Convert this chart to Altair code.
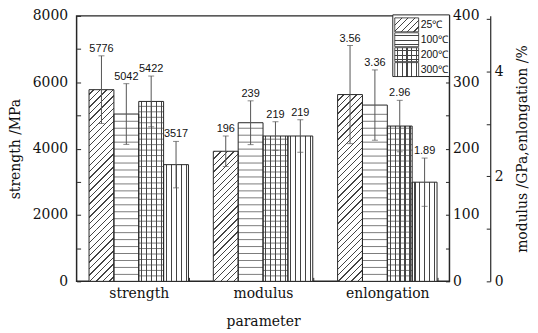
import altair as alt
import pandas as pd

# ---------------- data ----------------
PARAMS = ["strength", "modulus", "enlongation"]
TEMPS = ["25℃", "100℃", "200℃", "300℃"]
STRENGTH = [5776, 5042, 5422, 3517]
STRENGTH_ERR = [1020, 915, 765, 700]
MODULUS = [196, 239, 219, 219]
MODULUS_ERR = [23, 33, 21.5, 24.5]
ELONG = [3.56, 3.36, 2.96, 1.89]
ELONG_ERR = [0.935, 0.67, 0.49, 0.46]
VALUE_LABELS = ["5776", "5042", "5422", "3517",
                "196", "239", "219", "219",
                "3.56", "3.36", "2.96", "1.89"]

STRENGTH_MAX = 8000
MODULUS_MAX = 400
ELONG_MAX = 5.06
LEFT_TICKS = [0, 1000, 2000, 3000, 4000, 5000, 6000, 7000, 8000]
MOD_TICKS = [0, 50, 100, 150, 200, 250, 300, 350, 400]
ELONG_TICKS = [0, 1, 2, 3, 4, 5]

# ---------------- layout / style ----------------
W, H = 375, 267
BAR_W = 25
INK = "#262626"
HATCH = "#444444"
ERR = "#555555"
PAPER = "#ffffff"
CLEAR = "rgba(255,255,255,0)"
SERIF = "DejaVu Serif"
SANS = "Liberation Sans"
DIAG_GAP = 6.5      # px between diagonal hatch lines (25 C)
H_GAP = {"100℃": 7.0, "200℃": 5.5}   # px between horizontal hatch lines
V_GAP = 5.0         # px between vertical hatch lines
SEG_PX = 52         # diagonal hatch drawn in short stacked pieces

factor = {"strength": 1.0,
          "modulus": STRENGTH_MAX / MODULUS_MAX,
          "enlongation": STRENGTH_MAX / ELONG_MAX}
vals = {"strength": STRENGTH, "modulus": MODULUS, "enlongation": ELONG}
errs = {"strength": STRENGTH_ERR, "modulus": MODULUS_ERR, "enlongation": ELONG_ERR}

rows = []
k = 0
for p in PARAMS:
    for i, t in enumerate(TEMPS):
        f = factor[p]
        v, e = vals[p][i], errs[p][i]
        rows.append(dict(param=p, temp=t, plot=v * f, lo=(v - e) * f,
                         hi=(v + e) * f, label=VALUE_LABELS[k]))
        k += 1
df = pd.DataFrame(rows)
PX2DATA = STRENGTH_MAX / H


# ---------------- hatch helpers ----------------
def _stops(n, lw, bg, start=0.0):
    stops = []
    step = 1.0 / n
    for i in range(n):
        s = round(min(start * step + i * step, 1.0), 5)
        e = round(min(start * step + i * step + lw, 1.0), 5)
        nxt = round(min(start * step + (i + 1) * step, 1.0), 5)
        if i == 0 and s > 0:
            stops += [{"offset": 0, "color": bg}, {"offset": s, "color": bg}]
        stops += [{"offset": s, "color": HATCH}, {"offset": e, "color": HATCH},
                  {"offset": e, "color": bg}, {"offset": nxt, "color": bg}]
    return stops


def hlines(h, gap, bg=PAPER):
    n = max(1, round(h / gap))
    return {"gradient": "linear", "x1": 0, "y1": 0, "x2": 0.0001, "y2": 1,
            "stops": _stops(n, 1.1 / max(h, 1), bg, start=0.5)}


def vlines(w, gap, bg=PAPER):
    n = max(1, round(w / gap))
    return {"gradient": "linear", "x1": 0, "y1": 0, "x2": 1, "y2": 0.0001,
            "stops": _stops(n, 1.1 / w, bg, start=0.45)}


def dseg(w, hs, gap, phase, lw=1.25, bg=PAPER):
    """'/' hatch for one piece; lines where x + y (local px) == phase mod gap."""
    ct = w + hs
    a = ct / (w * w + hs * hs)
    stops = [{"offset": 0, "color": bg}]
    c = (phase % gap) - gap
    while c < ct:
        a0, a1 = max(c, 0.0) / ct, min(c + lw, ct) / ct
        if a1 > a0:
            a0, a1 = round(a0, 5), round(a1, 5)
            stops += [{"offset": a0, "color": bg}, {"offset": a0, "color": HATCH},
                      {"offset": a1, "color": HATCH}, {"offset": a1, "color": bg}]
        c += gap
    stops.append({"offset": 1, "color": bg})
    return {"gradient": "linear", "x1": 0, "y1": 0, "x2": a * w, "y2": a * hs,
            "stops": stops}


# ---------------- axes ----------------
x_axis = alt.Axis(orient="bottom", offset=-4, domain=False, tickSize=4,
                  tickBand="extent", tickColor=INK, labelAngle=0,
                  labelPadding=5, title="parameter", titlePadding=14)
left_axis = alt.Axis(orient="left", values=LEFT_TICKS, offset=-4, domain=False,
                     tickSize=4, labelPadding=9, format="d",
                     labelExpr="datum.value % 2000 === 0 ? datum.label : ''",
                     title="strength /MPa", titlePadding=10)

X = alt.X("param:N", sort=PARAMS,
          scale=alt.Scale(domain=PARAMS, paddingInner=0.2, paddingOuter=0.1),
          axis=x_axis)
XO = alt.XOffset("temp:N", sort=TEMPS,
                 scale=alt.Scale(domain=TEMPS, paddingInner=0, paddingOuter=0))
YS = alt.Scale(domain=[0, STRENGTH_MAX], nice=False)


def Yq(field):
    return alt.Y(field, scale=YS, axis=left_axis)


base = alt.Chart(df)
layers = []

# white bodies for all bars
layers.append(base.mark_bar(fill=PAPER).encode(x=X, xOffset=XO, y=Yq("plot:Q")))

# 25 C: diagonal hatch, built from stacked pieces of each bar
for p in PARAMS:
    top = float(df[(df.param == p) & (df.temp == "25℃")]["plot"].iloc[0])
    top_px = top / PX2DATA
    b0 = 0.0
    while b0 < top_px - 0.01:
        b1 = min(b0 + SEG_PX, top_px)
        piece = {"param": p, "temp": "25℃", "s0": b0 * PX2DATA,
                 "s1": top if b1 >= top_px else b1 * PX2DATA}
        layers.append(alt.Chart(alt.Data(values=[piece]))
                      .mark_bar(fill=dseg(BAR_W, b1 - b0, DIAG_GAP, b1))
                      .encode(x=X, xOffset=XO, y=Yq("s0:Q"), y2="s1:Q"))
        b0 = b1

# 100 C and 200 C: horizontal hatch lines (levels follow each bar height)
hrows = []
for p in PARAMS:
    for t in ["100℃", "200℃"]:
        top = float(df[(df.param == p) & (df.temp == t)]["plot"].iloc[0])
        step = H_GAP[t] * PX2DATA
        lvl = step
        while lvl < top - 0.35 * step:
            hrows.append({"param": p, "temp": t, "lvl": lvl})
            lvl += step
hatch_h = pd.DataFrame(hrows)
layers.append(alt.Chart(hatch_h).mark_tick(color=HATCH, size=BAR_W, thickness=1,
                                           orient="horizontal")
              .encode(x=X, xOffset=XO, y=Yq("lvl:Q")))

# 200 C (grid) and 300 C: vertical hatch lines
layers.append(base.transform_filter(alt.datum.temp == "200℃")
              .mark_bar(fill=vlines(BAR_W, V_GAP, CLEAR))
              .encode(x=X, xOffset=XO, y=Yq("plot:Q")))
layers.append(base.transform_filter(alt.datum.temp == "300℃")
              .mark_bar(fill=vlines(BAR_W, V_GAP, CLEAR))
              .encode(x=X, xOffset=XO, y=Yq("plot:Q")))

# outlines
layers.append(base.mark_bar(fillOpacity=0, stroke=INK, strokeWidth=1)
              .encode(x=X, xOffset=XO, y=Yq("plot:Q")))

err_rule = base.mark_rule(color=ERR, strokeWidth=1).encode(
    x=X, xOffset=XO, y=Yq("lo:Q"), y2="hi:Q")
cap_hi = base.mark_tick(color=ERR, size=6, thickness=1, orient="horizontal").encode(
    x=X, xOffset=XO, y=Yq("hi:Q"))
cap_lo = base.mark_tick(color=ERR, size=6, thickness=1, orient="horizontal").encode(
    x=X, xOffset=XO, y=Yq("lo:Q"))
value_text = base.mark_text(font=SANS, fontSize=11, baseline="alphabetic", dy=-4,
                            color="#111").encode(
    x=X, xOffset=XO, y=Yq("hi:Q"), text="label:N")

# ---------------- legend (drawn inside plot, top-right) ----------------
LEG_X0, LEG_X1, LEG_Y0 = 318, 375, -1
legend_layers = [
    alt.Chart(alt.Data(values=[{"a": 1}])).mark_rect(
        fill=PAPER, stroke=INK, strokeWidth=1).encode(
        x=alt.value(LEG_X0), x2=alt.value(LEG_X1),
        y=alt.value(LEG_Y0), y2=alt.value(LEG_Y0 + 62))
]
SW_W, SW_H = 24, 14
for i, t in enumerate(TEMPS):
    y0 = LEG_Y0 + 3 + i * 15
    if t == "25℃":
        fills = [dseg(SW_W, SW_H, DIAG_GAP, 0)]
    elif t == "100℃":
        fills = [hlines(SW_H, 5)]
    elif t == "200℃":
        fills = [hlines(SW_H, 5), vlines(SW_W, 5, CLEAR)]
    else:
        fills = [vlines(SW_W, 4.5)]
    for j, f in enumerate(fills):
        kw = dict(fill=f)
        if j == 0:
            kw.update(stroke=INK, strokeWidth=0.8)
        legend_layers.append(
            alt.Chart(alt.Data(values=[{"t": t}])).mark_rect(**kw).encode(
                x=alt.value(LEG_X0 + 2), x2=alt.value(LEG_X0 + 2 + SW_W),
                y=alt.value(y0), y2=alt.value(y0 + SW_H)))
    legend_layers.append(
        alt.Chart(alt.Data(values=[{"t": t}])).mark_text(
            align="left", baseline="middle", font=SANS, fontSize=10.5, color="#111").encode(
            x=alt.value(LEG_X0 + 4 + SW_W), y=alt.value(y0 + SW_H / 2 + 0.5), text="t:N"))

main = alt.layer(*layers, err_rule, cap_hi, cap_lo, value_text, *legend_layers)

# ---------------- secondary axes ----------------
mod_axis = alt.Chart(pd.DataFrame({"v": [0, MODULUS_MAX]})).mark_point(opacity=0).encode(
    y=alt.Y("v:Q", scale=alt.Scale(domain=[0, MODULUS_MAX], nice=False),
            axis=alt.Axis(orient="right", values=MOD_TICKS, offset=-4, domain=False,
                          tickSize=4, labelPadding=3,
                          labelExpr="datum.value % 100 === 0 ? datum.label : ''",
                          title=None)))
elong_axis = alt.Chart(pd.DataFrame({"v": [0, ELONG_MAX]})).mark_point(opacity=0).encode(
    y=alt.Y("v:Q", scale=alt.Scale(domain=[0, ELONG_MAX], nice=False),
            axis=alt.Axis(orient="right", values=ELONG_TICKS, offset=37, domain=False,
                          tickSize=4, labelPadding=4,
                          labelExpr="datum.value % 2 === 0 ? datum.label : ''",
                          title="modulus /GPa,enlongation /%", titleAngle=270,
                          titleBaseline="top", titlePadding=13)))
elong_line = alt.Chart(pd.DataFrame({"w": [0, ELONG_MAX]})).mark_point(opacity=0).encode(
    y=alt.Y("w:Q", scale=alt.Scale(domain=[0, ELONG_MAX], nice=False),
            axis=alt.Axis(orient="right", offset=41, domain=True, domainColor=INK,
                          domainWidth=1.2, ticks=False, labels=False, title=None)))

chart = (alt.layer(main, mod_axis, elong_axis, elong_line)
         .resolve_scale(y="independent")
         .properties(width=W, height=H, padding=0)
         .configure_view(stroke=INK, strokeWidth=1.5)
         .configure_axis(labelFont=SERIF, labelFontSize=14, titleFont=SERIF,
                         titleFontSize=14, titleFontWeight="normal",
                         labelColor="#111", titleColor="#111", tickColor=INK,
                         grid=False))

chart.save("out.html", embed_options={"renderer": "svg", "actions": False})
